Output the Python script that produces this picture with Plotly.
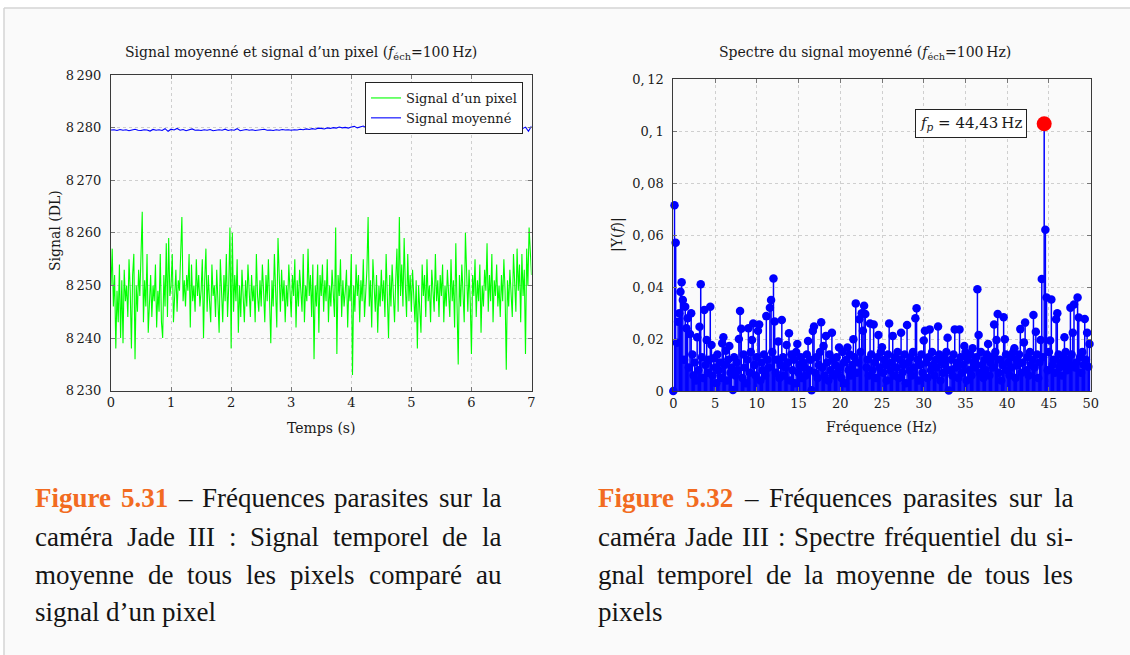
import plotly.graph_objects as go

W, H = 1130, 655

# ---------------- data ----------------
PIXEL_PERIOD = 0.02  # s between plotted samples of the single pixel signal
PIXEL_SIGNAL = [
    8250, 8257, 8246, 8252, 8238, 8249, 8243, 8254, 8240, 8251, 8239, 8253, 8247, 8250, 8244, 8255, 8249, 8238, 8252, 8256, 8236, 8250, 8245, 8253, 8248,
    8255, 8264, 8243, 8251, 8246, 8256, 8241, 8249, 8252, 8244, 8250, 8247, 8254, 8242, 8249, 8245, 8256, 8243, 8240, 8252, 8246, 8258, 8244, 8259, 8248,
    8250, 8256, 8243, 8247, 8253, 8245, 8251, 8249, 8255, 8263, 8247, 8251, 8246, 8252, 8249, 8256, 8242, 8254, 8247, 8250, 8245, 8255, 8248, 8252, 8246,
    8249, 8255, 8240, 8251, 8257, 8245, 8252, 8247, 8243, 8254, 8248, 8250, 8244, 8253, 8246, 8241, 8255, 8249, 8243, 8252, 8247, 8256, 8244, 8250, 8261,
    8238, 8260, 8245, 8252, 8247, 8255, 8241, 8250, 8244, 8253, 8248, 8243, 8251, 8246, 8254, 8249, 8244, 8252, 8247, 8250, 8243, 8256, 8248, 8245, 8251,
    8246, 8254, 8249, 8243, 8252, 8247, 8255, 8244, 8239, 8251, 8246, 8256, 8248, 8242, 8259, 8250, 8245, 8253, 8247, 8251, 8243, 8250, 8246, 8254, 8249,
    8244, 8252, 8248, 8255, 8242, 8251, 8246, 8253, 8249, 8245, 8256, 8243, 8250, 8247, 8257, 8248, 8252, 8244, 8254, 8236, 8250, 8246, 8254, 8241, 8252,
    8248, 8254, 8245, 8251, 8247, 8255, 8243, 8250, 8246, 8253, 8249, 8244, 8261, 8237, 8252, 8248, 8255, 8244, 8251, 8246, 8249, 8253, 8242, 8250, 8247,
    8256, 8233, 8250, 8245, 8254, 8248, 8252, 8243, 8251, 8247, 8255, 8244, 8249, 8253, 8263, 8246, 8251, 8242, 8255, 8248, 8245, 8252, 8241, 8250, 8246,
    8253, 8247, 8251, 8244, 8256, 8249, 8240, 8252, 8246, 8254, 8248, 8243, 8251, 8257, 8245, 8263, 8248, 8254, 8246, 8259, 8250, 8244, 8256, 8247, 8252,
    8245, 8253, 8249, 8243, 8251, 8238, 8250, 8246, 8241, 8254, 8248, 8252, 8244, 8255, 8247, 8250, 8243, 8253, 8249, 8245, 8256, 8247, 8251, 8244, 8252,
    8248, 8254, 8243, 8250, 8246, 8253, 8249, 8244, 8255, 8247, 8251, 8242, 8258, 8249, 8235, 8252, 8246, 8254, 8248, 8243, 8260, 8250, 8245, 8253, 8247,
    8237, 8252, 8248, 8255, 8244, 8251, 8247, 8254, 8241, 8250, 8246, 8253, 8249, 8258, 8245, 8252, 8247, 8256, 8243, 8251, 8248, 8254, 8246, 8250, 8244,
    8252, 8247, 8255, 8249, 8234, 8251, 8246, 8253, 8248, 8244, 8256, 8250, 8245, 8257, 8249, 8254, 8243, 8256, 8248, 8253, 8237, 8257, 8250, 8261, 8255,
    8252,
]

MEAN_PERIOD = 0.05  # s between plotted samples of the averaged signal
MEAN_SIGNAL = [
    8279.55, 8279.6, 8279.45, 8279.65, 8279.5, 8279.6, 8279.4, 8279.55, 8279.7, 8279.5, 8279.45, 8279.6, 8279.55, 8279.35, 8279.65, 8279.5, 8279.6, 8279.45, 8279.8, 8279.3,
    8279.7, 8279.55, 8279.85, 8279.5, 8279.65, 8279.4, 8279.6, 8279.75, 8279.5, 8279.55, 8279.45, 8279.6, 8279.5, 8279.65, 8279.4, 8279.55, 8279.6, 8279.5, 8279.7, 8279.45,
    8279.6, 8279.5, 8279.8, 8279.4, 8279.55, 8279.65, 8279.5, 8279.6, 8279.45, 8279.55, 8279.6, 8279.7, 8279.5, 8279.55, 8279.45, 8279.6, 8279.5, 8279.65, 8279.55, 8279.6,
    8279.5, 8279.6, 8279.55, 8279.7, 8279.6, 8279.75, 8279.65, 8279.8, 8279.7, 8279.9, 8279.85, 8279.75, 8279.95, 8279.85, 8280.0, 8279.9, 8280.1, 8279.95, 8280.05, 8279.9,
    8280.1, 8280.25, 8279.95, 8280.1, 8280.3, 8280.0, 8280.15, 8279.9, 8280.05, 8280.2, 8279.95, 8280.1, 8280.0, 8280.15, 8279.9, 8279.3, 8280.05, 8279.95, 8280.1, 8280.0,
    8279.95, 8280.1, 8279.85, 8280.05, 8279.9, 8280.0, 8280.15, 8279.9, 8280.05, 8279.95, 8280.1, 8279.85, 8280.0, 8280.1, 8279.9, 8280.05, 8279.95, 8280.15, 8279.9, 8280.0,
    8280.05, 8279.9, 8280.1, 8279.95, 8280.0, 8280.2, 8279.9, 8280.05, 8279.95, 8280.15, 8279.85, 8280.0, 8280.1, 8279.9, 8280.2, 8279.95, 8280.05, 8279.8, 8280.1, 8279.3,
    8280.3,
]

FREQ_STEP = 100 / 700  # Hz between spectrum bins
SPECTRUM = [
    0.0, 0.0714, 0.057, 0.0186, 0.0266, 0.0299, 0.0382, 0.0418, 0.035, 0.012,
    0.0324, 0.0241, 0.028, 0.009, 0.0219, 0.0299, 0.014, 0.006, 0.011, 0.004,
    0.0207, 0.008, 0.0247, 0.0411, 0.013, 0.005, 0.0312, 0.010, 0.0196, 0.007,
    0.012, 0.0324, 0.0177, 0.006, 0.0126, 0.009, 0.003, 0.014, 0.008, 0.011,
    0.005, 0.0184, 0.0207, 0.010, 0.0155, 0.004, 0.012, 0.0173, 0.007, 0.009,
    0.0004, 0.013, 0.006, 0.011, 0.008, 0.0200, 0.0308, 0.0239, 0.005, 0.014,
    0.009, 0.003, 0.012, 0.0241, 0.007, 0.015, 0.0196, 0.0260, 0.010, 0.006,
    0.013, 0.0232, 0.0256, 0.004, 0.011, 0.008, 0.014, 0.006, 0.0288, 0.012,
    0.009, 0.0320, 0.0350, 0.015, 0.0433, 0.0267, 0.007, 0.012, 0.0190, 0.005,
    0.010, 0.0273, 0.013, 0.006, 0.009, 0.0177, 0.011, 0.0222, 0.004, 0.014,
    0.008, 0.012, 0.003, 0.015, 0.0181, 0.007, 0.010, 0.013, 0.005, 0.011,
    0.009, 0.006, 0.014, 0.0192, 0.008, 0.012, 0.0003, 0.0231, 0.0248, 0.007,
    0.013, 0.005, 0.010, 0.015, 0.0264, 0.009, 0.0173, 0.006, 0.0212, 0.011,
    0.004, 0.014, 0.008, 0.0224, 0.012, 0.006, 0.010, 0.013, 0.007, 0.0167,
    0.009, 0.005, 0.015, 0.011, 0.003, 0.012, 0.0167, 0.008, 0.014, 0.006,
    0.010, 0.0199, 0.013, 0.0337, 0.007, 0.011, 0.0276, 0.015, 0.0299, 0.0232,
    0.0328, 0.0296, 0.009, 0.012, 0.006, 0.0260, 0.014, 0.008, 0.0256, 0.011,
    0.005, 0.013, 0.0215, 0.009, 0.015, 0.0168, 0.007, 0.012, 0.010, 0.004,
    0.014, 0.0260, 0.008, 0.011, 0.0212, 0.006, 0.013, 0.009, 0.015, 0.005,
    0.012, 0.0224, 0.007, 0.010, 0.014, 0.003, 0.0254, 0.011, 0.008, 0.013,
    0.006, 0.015, 0.009, 0.0280, 0.0318, 0.012, 0.004, 0.010, 0.014, 0.007,
    0.0194, 0.0232, 0.011, 0.005, 0.013, 0.0237, 0.008, 0.015, 0.010, 0.006,
    0.012, 0.009, 0.0248, 0.014, 0.004, 0.011, 0.007, 0.013, 0.010, 0.015,
    0.0205, 0.0002, 0.008, 0.012, 0.006, 0.014, 0.0237, 0.009, 0.011, 0.005,
    0.0237, 0.013, 0.007, 0.010, 0.0173, 0.015, 0.004, 0.012, 0.008, 0.014,
    0.006, 0.0164, 0.011, 0.009, 0.013, 0.0391, 0.0215, 0.007, 0.015, 0.010,
    0.005, 0.012, 0.008, 0.014, 0.0181, 0.006, 0.011, 0.013, 0.009, 0.0256,
    0.015, 0.0196, 0.0296, 0.007, 0.012, 0.004, 0.010, 0.0284, 0.0199, 0.014,
    0.008, 0.011, 0.006, 0.013, 0.009, 0.015, 0.0164, 0.005, 0.012, 0.010,
    0.014, 0.0238, 0.007, 0.011, 0.0187, 0.0263, 0.008, 0.013, 0.006, 0.015,
    0.010, 0.012, 0.0292, 0.009, 0.0228, 0.014, 0.005, 0.011, 0.0196, 0.0431,
    0.013, 0.1028, 0.062, 0.0360, 0.008, 0.015, 0.0194, 0.0352, 0.010, 0.012,
    0.007, 0.0276, 0.0299, 0.014, 0.009, 0.011, 0.006, 0.013, 0.0207, 0.015,
    0.008, 0.012, 0.010, 0.0320, 0.014, 0.0224, 0.0333, 0.009, 0.011, 0.0360,
    0.0283, 0.013, 0.007, 0.015, 0.010, 0.0277, 0.012, 0.0224, 0.0093, 0.0181,
]

PEAK_FREQ = 44.43
PEAK_AMP = 0.1028

LEFT_XTICKS = [0, 1, 2, 3, 4, 5, 6, 7]
LEFT_YTICKS = [8230, 8240, 8250, 8260, 8270, 8280, 8290]
LEFT_YTICKTEXT = ["8\u2009230", "8\u2009240", "8\u2009250", "8\u2009260", "8\u2009270", "8\u2009280", "8\u2009290"]
RIGHT_XTICKS = [0, 5, 10, 15, 20, 25, 30, 35, 40, 45, 50]
RIGHT_YTICKS = [0, 0.02, 0.04, 0.06, 0.08, 0.10, 0.12]
RIGHT_YTICKTEXT = ["0", "0,\u200902", "0,\u200904", "0,\u200906", "0,\u200908", "0,\u20091", "0,\u200912"]

LEFT_CAPTION = [
    "Figure 5.31 \u2013 Fr\u00e9quences parasites sur la",
    "cam\u00e9ra Jade III : Signal temporel de la",
    "moyenne de tous les pixels compar\u00e9 au",
    "signal d\u2019un pixel",
]
RIGHT_CAPTION = [
    "Figure 5.32 \u2013 Fr\u00e9quences parasites sur la",
    "cam\u00e9ra Jade III : Spectre fr\u00e9quentiel du si-",
    "gnal temporel de la moyenne de tous les",
    "pixels",
]

# ---------------- helpers ----------------
def px(x):
    return x / W


def py(y):
    return 1 - y / H


SERIF = "DejaVu Serif"
TXT = "#1a1a1a"

t_pixel = [i * PIXEL_PERIOD for i in range(len(PIXEL_SIGNAL))]
t_mean = [i * MEAN_PERIOD for i in range(len(MEAN_SIGNAL))]
freqs = [k * FREQ_STEP for k in range(len(SPECTRUM))]

stem_x, stem_y = [], []
for f, a in zip(freqs, SPECTRUM):
    stem_x += [f, f, None]
    stem_y += [0, a, None]

fig = go.Figure()
fig.add_trace(go.Scatter(x=t_pixel, y=PIXEL_SIGNAL, mode="lines", name="Signal d\u2019un pixel",
                         line=dict(color="#00ff00", width=1.1), xaxis="x", yaxis="y"))
fig.add_trace(go.Scatter(x=t_mean, y=MEAN_SIGNAL, mode="lines", name="Signal moyenn\u00e9",
                         line=dict(color="#0000ff", width=1.1), xaxis="x", yaxis="y"))
fig.add_trace(go.Scatter(x=stem_x, y=stem_y, mode="lines", showlegend=False,
                         line=dict(color="#0000ff", width=1.5), xaxis="x2", yaxis="y2"))
fig.add_trace(go.Scatter(x=freqs, y=SPECTRUM, mode="markers", showlegend=False, cliponaxis=False,
                         marker=dict(color="#0000ff", size=8.5), xaxis="x2", yaxis="y2"))
fig.add_trace(go.Scatter(x=[PEAK_FREQ], y=[PEAK_AMP], mode="markers", showlegend=False, cliponaxis=False,
                         marker=dict(color="#ff0000", size=15), xaxis="x2", yaxis="y2"))

axis_common = dict(
    showline=True, mirror="allticks", linecolor="#3a3a3a", linewidth=1,
    ticks="inside", ticklen=4, tickcolor="#777777", tickwidth=1,
    showgrid=True, gridcolor="#cfcfcf", griddash="dot", gridwidth=1,
    zeroline=False, automargin=False, tickfont=dict(family=SERIF, size=13, color=TXT),
)

fig.update_layout(
    template="none",
    width=W, height=H, autosize=False,
    margin=dict(l=0, r=0, t=0, b=0, pad=0, autoexpand=False),
    paper_bgcolor="#ffffff",
    plot_bgcolor="rgba(0,0,0,0)",
    showlegend=True,
    legend=dict(x=px(523), y=py(82), xanchor="right", yanchor="top",
                bgcolor="#ffffff", bordercolor="#222222", borderwidth=1,
                font=dict(family=SERIF, size=13, color=TXT),
                itemwidth=30, tracegroupgap=0),
    xaxis=dict(domain=[px(111), px(531.5)], range=[0, 7], tickvals=LEFT_XTICKS,
               anchor="y", **axis_common),
    yaxis=dict(domain=[py(390.7), py(75)], range=[8230, 8290], tickvals=LEFT_YTICKS,
               ticktext=LEFT_YTICKTEXT, anchor="x", ticklabelstandoff=6, **axis_common),
    xaxis2=dict(domain=[px(673.3), px(1090.7)], range=[0, 50], tickvals=RIGHT_XTICKS,
                anchor="y2", **axis_common),
    yaxis2=dict(domain=[py(391), py(79)], range=[0, 0.12], tickvals=RIGHT_YTICKS,
                ticktext=RIGHT_YTICKTEXT, anchor="x2", ticklabelstandoff=6, **axis_common),
)

# page frame (kept inside the paper)
fig.add_shape(type="rect", xref="paper", yref="paper", x0=px(4), x1=1, y0=0, y1=py(8),
              fillcolor="#fafafa", line=dict(width=0), layer="below")
fig.add_shape(type="line", xref="paper", yref="paper", x0=px(4), x1=1, y0=py(8), y1=py(8),
              line=dict(color="#d4d4d4", width=1.5), layer="below")
fig.add_shape(type="line", xref="paper", yref="paper", x0=px(4), x1=px(4), y0=0, y1=py(8),
              line=dict(color="#d4d4d4", width=1.5), layer="below")

ann = []
# chart titles
ann.append(dict(text="Signal moyenn\u00e9 et signal d\u2019un pixel (<i>f</i><sub>\u00e9ch</sub>=100\u2009Hz)",
                x=px(301), y=py(53), font=dict(family=SERIF, size=14, color=TXT)))
ann.append(dict(text="Spectre du signal moyenn\u00e9 (<i>f</i><sub>\u00e9ch</sub>=100\u2009Hz)",
                x=px(865), y=py(53), font=dict(family=SERIF, size=14, color=TXT)))
# axis titles
ann.append(dict(text="Temps (s)", x=px(321), y=py(428), font=dict(family=SERIF, size=14, color=TXT)))
ann.append(dict(text="Fr\u00e9quence (Hz)", x=px(882), y=py(427), font=dict(family=SERIF, size=14, color=TXT)))
ann.append(dict(text="Signal (DL)", x=px(55), y=py(231), textangle=-90, font=dict(family=SERIF, size=14, color=TXT)))
ann.append(dict(text="|Y(<i>f</i>)|", x=px(617), y=py(235), textangle=-90, font=dict(family=SERIF, size=14, color=TXT)))
for a in ann:
    a.update(xref="paper", yref="paper", showarrow=False, xanchor="center", yanchor="middle")
    fig.add_annotation(**a)

# peak label
fig.add_annotation(x=PEAK_FREQ, y=PEAK_AMP, xref="x2", yref="y2", showarrow=False,
                   text="<i>f</i><sub><i>p</i></sub> = 44,43\u2009Hz", xanchor="right", yanchor="middle",
                   xshift=-17, bgcolor="#ffffff", bordercolor="#222222", borderwidth=1, borderpad=4,
                   font=dict(family=SERIF, size=15, color=TXT))

# ---------------- justified captions ----------------
CAP_SIZE = 27
CAP_FAMILY = "Liberation Serif"
ORANGE = "#f26b21"
# Times-compatible advance widths (1/1000 em) used by Liberation Serif
REG_W = {" ": 250, "a": 444, "b": 500, "c": 444, "d": 500, "e": 444, "f": 333, "g": 500, "h": 500,
         "i": 278, "j": 278, "k": 500, "l": 278, "m": 778, "n": 500, "o": 500, "p": 500, "q": 500,
         "r": 333, "s": 389, "t": 278, "u": 500, "v": 500, "w": 722, "x": 500, "y": 500, "z": 444,
         "\u00e9": 444, "F": 556, "J": 389, "I": 333, "S": 556, "\u2019": 333, "\u2013": 500,
         ":": 278, "-": 333, ".": 250}
BOLD_W = {"F": 611, "i": 278, "g": 500, "u": 556, "r": 444, "e": 444, ".": 250}


def word_width(word, bold):
    table = BOLD_W if bold else REG_W
    return sum(table.get(c, 500) for c in word) * CAP_SIZE / 1000


def place_caption(lines, x0, x1, ys):
    for li, (line, yy) in enumerate(zip(lines, ys)):
        words = line.split(" ")
        bold_flags = [li == 0 and wi < 2 for wi in range(len(words))]
        widths = [word_width(w, b) for w, b in zip(words, bold_flags)]
        last = li == len(lines) - 1
        if last or len(words) == 1:
            gap = REG_W[" "] * CAP_SIZE / 1000
        else:
            gap = (x1 - x0 - sum(widths)) / (len(words) - 1)
        x = x0
        for w, b, wd in zip(words, bold_flags, widths):
            txt = f"<b>{w}</b>" if b else w
            fig.add_annotation(text=txt, x=px(x), y=py(yy), xref="paper", yref="paper",
                               showarrow=False, xanchor="left", yanchor="middle", borderpad=0,
                               font=dict(family=CAP_FAMILY, size=CAP_SIZE,
                                         color=ORANGE if b else "#141414"))
            x += wd + gap


line_y = [498, 537, 575, 612]
place_caption(LEFT_CAPTION, 34, 500, line_y)
place_caption(RIGHT_CAPTION, 597, 1072, line_y)

fig.write_html(
    "out.html",
    config={"displayModeBar": False},
    post_script="document.body.style.margin='0';document.body.style.overflow='hidden';",
)
